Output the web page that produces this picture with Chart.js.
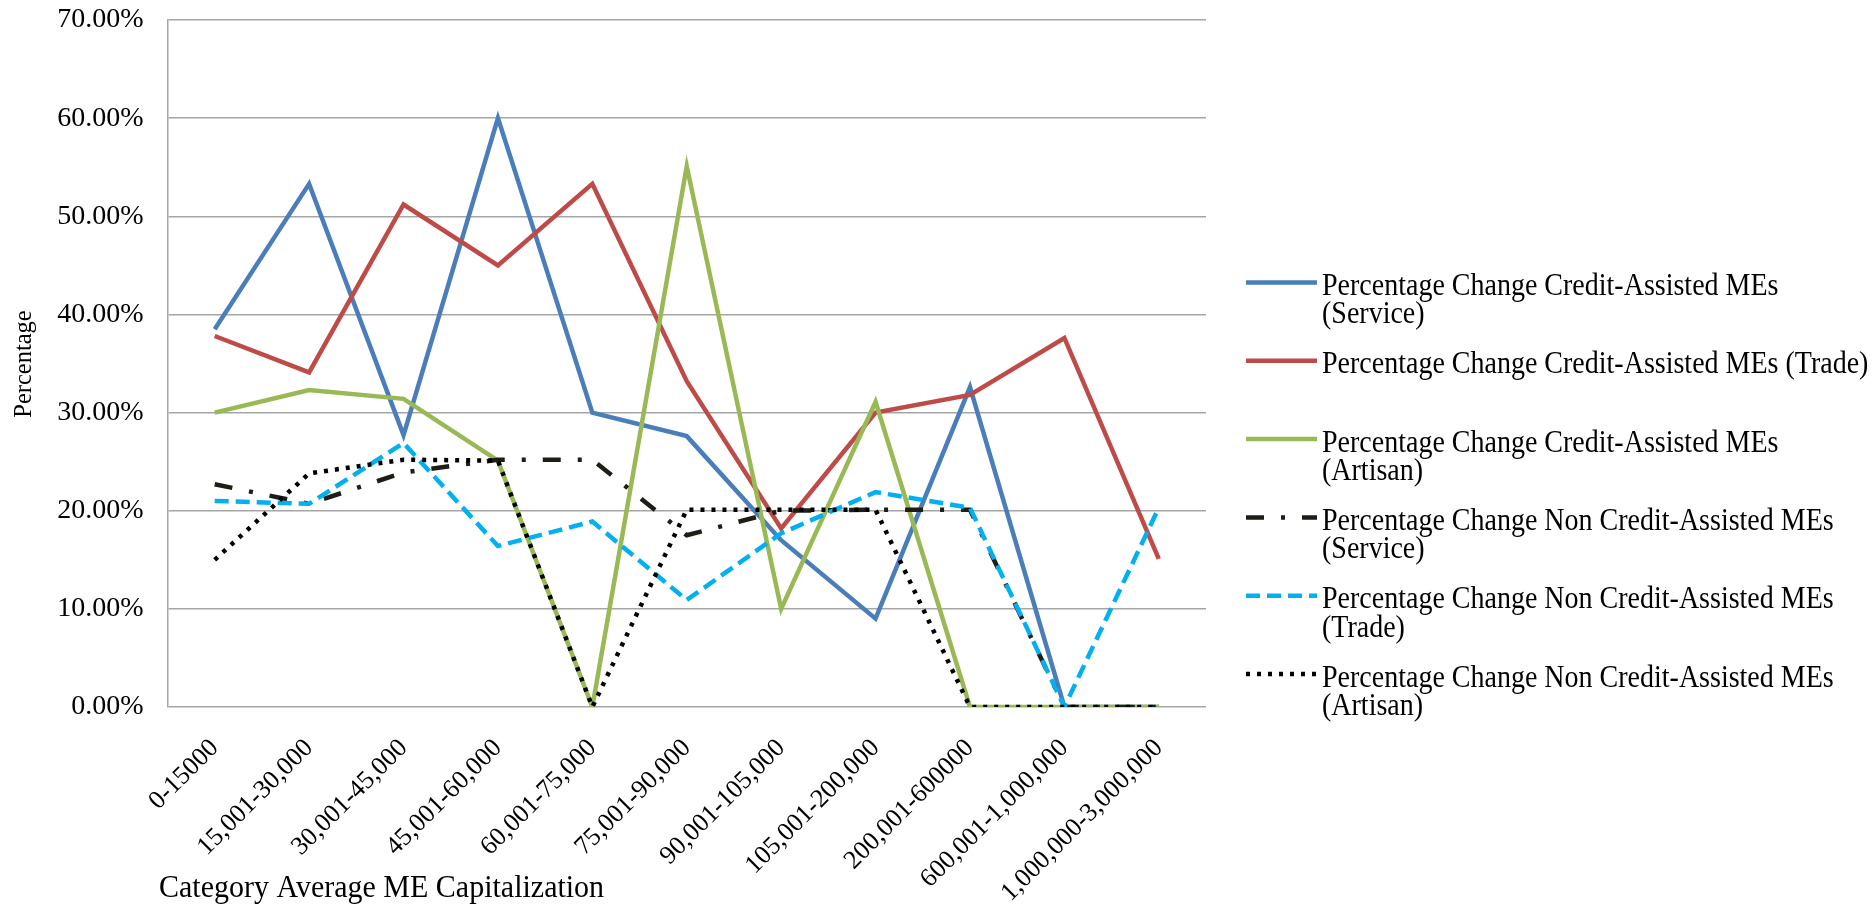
<!DOCTYPE html>
<html>
<head>
<meta charset="utf-8">
<script src="https://cdn.jsdelivr.net/npm/chart.js@4.4.1/dist/chart.umd.min.js"></script>
<style>
  html, body { margin: 0; padding: 0; background: #ffffff; }
  #wrap { position: relative; width: 1875px; height: 923px; }
</style>
</head>
<body>
<div id="wrap"><canvas id="chart"></canvas></div>
<script>
// Capitalization bands (x categories)
const categories = [
  '0-15000', '15,001-30,000', '30,001-45,000', '45,001-60,000', '60,001-75,000',
  '75,001-90,000', '90,001-105,000', '105,001-200,000', '200,001-600000',
  '600,001-1,000,000', '1,000,000-3,000,000'
];

// Percentage change per band, in percent
const creditService    = [38.5, 53.3, 27.7, 60.0, 30.0, 27.6, 17.0,  9.0, 32.6,  0.0,  0.0];
const creditTrade      = [37.8, 34.1, 51.2, 45.0, 53.3, 33.2, 18.2, 30.0, 31.8, 37.6, 15.1];
const creditArtisan    = [30.0, 32.3, 31.4, 25.1,  0.0, 55.1, 10.0, 31.1,  0.0,  0.0,  0.0];
const nonCreditService = [22.7, 20.7, 23.9, 25.2, 25.2, 17.5, 20.0, 20.1, 20.1,  0.0,  0.0];
const nonCreditTrade   = [21.0, 20.7, 26.9, 16.4, 18.9, 10.9, 17.7, 21.9, 20.3,  0.0, 20.3];
const nonCreditArtisan = [15.0, 23.8, 25.2, 25.1,  0.0, 20.1, 20.1, 20.1,  0.0,  0.0,  0.0];

// Legend text, already broken into lines
const seriesLabels = [
  ['Percentage Change Credit-Assisted MEs', '(Service)'],
  ['Percentage Change Credit-Assisted MEs (Trade)'],
  ['Percentage Change Credit-Assisted MEs', '(Artisan)'],
  ['Percentage Change Non Credit-Assisted MEs', '(Service)'],
  ['Percentage Change Non Credit-Assisted MEs', '(Trade)'],
  ['Percentage Change Non Credit-Assisted MEs', '(Artisan)']
];

// Y axis range and tick step, in percent
const yMin = 0, yMax = 70, yStep = 10;

const xTitle = 'Category Average ME Capitalization';
const yTitle = 'Percentage';

const FONT = '"Liberation Serif", "Times New Roman", serif';

const seriesValues = [creditService, creditTrade, creditArtisan, nonCreditService, nonCreditTrade, nonCreditArtisan];
const seriesStyles = [
  { color: '#4A7EBB', dash: [] },
  { color: '#BE4B48', dash: [] },
  { color: '#98B954', dash: [] },
  { color: '#1E1E16', dash: [18, 17, 4, 17] },
  { color: '#00B0F0', dash: [14, 7] },
  { color: '#000000', dash: [4, 7] }
];

const datasets = seriesValues.map((vals, i) => ({
  label: seriesLabels[i].join(' '),
  data: vals,
  borderColor: seriesStyles[i].color,
  backgroundColor: seriesStyles[i].color,
  borderDash: seriesStyles[i].dash,
  borderWidth: 4.5,
  borderCapStyle: 'butt',
  borderJoinStyle: 'miter',
  pointRadius: 0,
  pointHoverRadius: 0,
  tension: 0,
  fill: false,
  // later series are painted over earlier ones
  order: seriesValues.length - 1 - i
}));

// draw text on its baseline, slightly stretched vertically
function tallText(ctx, txt, x, y, sy) {
  ctx.save();
  ctx.translate(x, y);
  ctx.scale(1, sy);
  ctx.fillText(txt, 0, 0);
  ctx.restore();
}

// Multi-line legend to the right of the plot, plus the two axis titles
const sideLegend = {
  id: 'sideLegend',
  afterDraw(chart) {
    const ctx = chart.ctx;
    const area = chart.chartArea;
    ctx.save();

    // axis titles
    ctx.fillStyle = '#000000';
    ctx.font = '30px ' + FONT;
    ctx.textAlign = 'left';
    ctx.textBaseline = 'alphabetic';
    tallText(ctx, xTitle, 159, 897, 1.08);

    ctx.save();
    ctx.translate(25, 364);
    ctx.rotate(-Math.PI / 2);
    ctx.font = '24.5px ' + FONT;
    ctx.textAlign = 'center';
    ctx.textBaseline = 'middle';
    ctx.fillText(yTitle, 0, 0);
    ctx.restore();

    // legend entries
    const lineX0 = area.right + 40;
    const lineX1 = area.right + 111;
    const textX = area.right + 116;
    const firstBase = 295;
    const pitch = 78.3;
    const lineGap = 28.3;
    ctx.font = '28px ' + FONT;
    ctx.textAlign = 'left';
    ctx.textBaseline = 'alphabetic';
    chart.data.datasets.forEach((ds, i) => {
      const base = firstBase + i * pitch;
      ctx.beginPath();
      ctx.setLineDash(ds.borderDash || []);
      ctx.lineDashOffset = 0;
      ctx.strokeStyle = ds.borderColor;
      ctx.lineWidth = ds.borderWidth;
      ctx.lineCap = 'butt';
      ctx.moveTo(lineX0, base - 12.5);
      ctx.lineTo(lineX1, base - 12.5);
      ctx.stroke();
      ctx.setLineDash([]);
      ctx.fillStyle = '#000000';
      seriesLabels[i].forEach((txt, k) => {
        tallText(ctx, txt, textX, base + k * lineGap, 1.15);
      });
    });
    ctx.restore();
  }
};

new Chart(document.getElementById('chart'), {
  type: 'line',
  data: { labels: categories, datasets: datasets },
  options: {
    responsive: true,
    maintainAspectRatio: false,
    animation: false,
    devicePixelRatio: 1,
    layout: { padding: { top: 20, right: 669, bottom: 0, left: 0 } },
    plugins: {
      legend: { display: false },
      tooltip: { enabled: false },
      title: { display: false }
    },
    scales: {
      x: {
        type: 'category',
        offset: true,
        grid: { display: false, drawTicks: false },
        border: { display: false },
        ticks: {
          color: '#000000',
          font: { family: FONT, size: 26 },
          minRotation: 45,
          maxRotation: 45,
          autoSkip: false,
          padding: 26
        },
        afterFit(scale) {
          scale.height = 216;
          scale.paddingLeft = 0;
          scale.paddingRight = 0;
        }
      },
      y: {
        min: yMin,
        max: yMax,
        grid: { color: '#A6A6A6', lineWidth: 1.5, drawTicks: false },
        border: { display: true, color: '#A6A6A6', width: 1.5 },
        ticks: {
          stepSize: yStep,
          color: '#000000',
          font: { family: FONT, size: 28 },
          padding: 24,
          callback: v => v.toFixed(2) + '%'
        },
        afterFit(scale) {
          scale.width = 167.5;
          scale.paddingTop = 0;
          scale.paddingBottom = 0;
        }
      }
    }
  },
  plugins: [sideLegend]
});
</script>
</body>
</html>
